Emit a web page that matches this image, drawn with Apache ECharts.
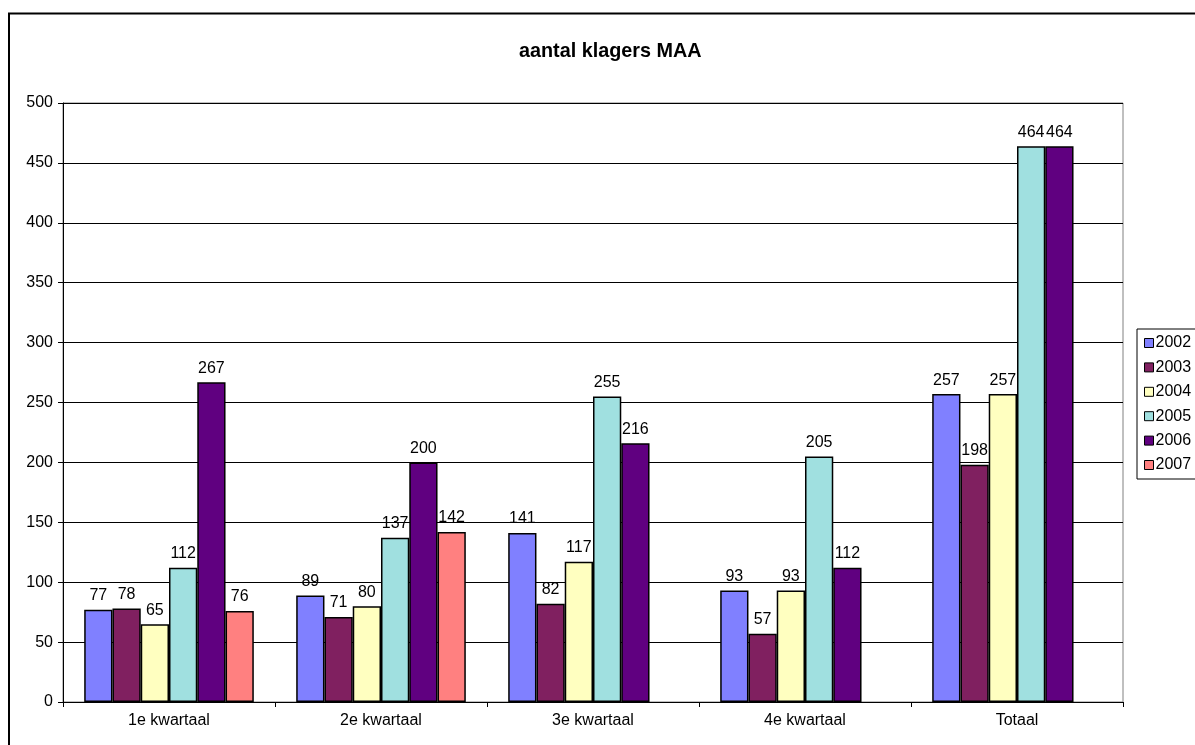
<!DOCTYPE html>
<html>
<head>
<meta charset="utf-8">
<script src="https://cdn.jsdelivr.net/npm/echarts@6/dist/echarts.min.js"></script>
<style>
html,body{margin:0;padding:0;background:#fff;}
#chart{width:1195px;height:745px;}
</style>
</head>
<body>
<div id="chart"></div>
<script>
const categories = ['1e kwartaal', '2e kwartaal', '3e kwartaal', '4e kwartaal', 'Totaal'];
const seriesNames = ['2002', '2003', '2004', '2005', '2006', '2007'];
const v2002 = [77, 89, 141, 93, 257];
const v2003 = [78, 71, 82, 57, 198];
const v2004 = [65, 80, 117, 93, 257];
const v2005 = [112, 137, 255, 205, 464];
const v2006 = [267, 200, 216, 112, 464];
const v2007 = [76, 142, null, null, null];
const colors = ['#8080FF', '#802060', '#FFFFC0', '#A0E0E0', '#600080', '#FF8080'];
const values = [v2002, v2003, v2004, v2005, v2006, v2007];

const FONT = 'Liberation Sans, Arial, sans-serif';
const chart = echarts.init(document.getElementById('chart'), null, {renderer: 'canvas'});

const series = seriesNames.map((name, i) => ({
  name: name,
  type: 'bar',
  data: values[i].map(v => v === null ? '-' : v),
  barGap: '0%',
  barCategoryGap: '20%',
  itemStyle: {color: colors[i], borderColor: '#000', borderWidth: 1.5},
  label: {
    show: true, position: 'top', distance: 6,
    color: '#000', fontFamily: FONT, fontSize: 16
  },
  emphasis: {disabled: true},
  animation: false
}));

chart.setOption({
  animation: false,
  backgroundColor: '#fff',
  title: {
    text: 'aantal klagers MAA',
    left: 514, top: 37,
    textStyle: {fontFamily: FONT, fontSize: 19.8, fontWeight: 'bold', color: '#000'}
  },
  graphic: [{
    type: 'rect', silent: true, z: -10,
    shape: {x: 9, y: 13.5, width: 1400, height: 1000},
    style: {fill: null, stroke: '#000', lineWidth: 2}
  }],
  legend: {
    orient: 'vertical',
    left: 1137, top: 329,
    padding: [6, 30, 6, 7],
    itemGap: 8.4,
    itemWidth: 9, itemHeight: 9,
    icon: 'rect',
    borderColor: '#000', borderWidth: 1,
    backgroundColor: '#fff',
    itemStyle: {borderWidth: 1, borderColor: '#000'},
    textStyle: {fontFamily: FONT, fontSize: 16, color: '#000', padding: [0, 0, 0, -3]},
    data: seriesNames
  },
  grid: {
    left: 63, right: 72, top: 103, bottom: 43,
    show: true, borderColor: '#808080', borderWidth: 1, backgroundColor: '#fff'
  },
  xAxis: {
    type: 'category',
    data: categories,
    axisLine: {lineStyle: {color: '#000', width: 1}},
    axisTick: {show: true, length: 5, lineStyle: {color: '#000'}},
    axisLabel: {fontFamily: FONT, fontSize: 16, color: '#000', margin: 11},
    splitLine: {show: false}
  },
  yAxis: {
    type: 'value',
    min: 0, max: 500, interval: 50,
    axisLine: {show: true, lineStyle: {color: '#000', width: 1}},
    axisTick: {show: true, length: 5, lineStyle: {color: '#000'}},
    axisLabel: {fontFamily: FONT, fontSize: 16, color: '#000', margin: 10},
    splitLine: {show: true, lineStyle: {color: '#000', width: 1}}
  },
  series: series
});
</script>
</body>
</html>
